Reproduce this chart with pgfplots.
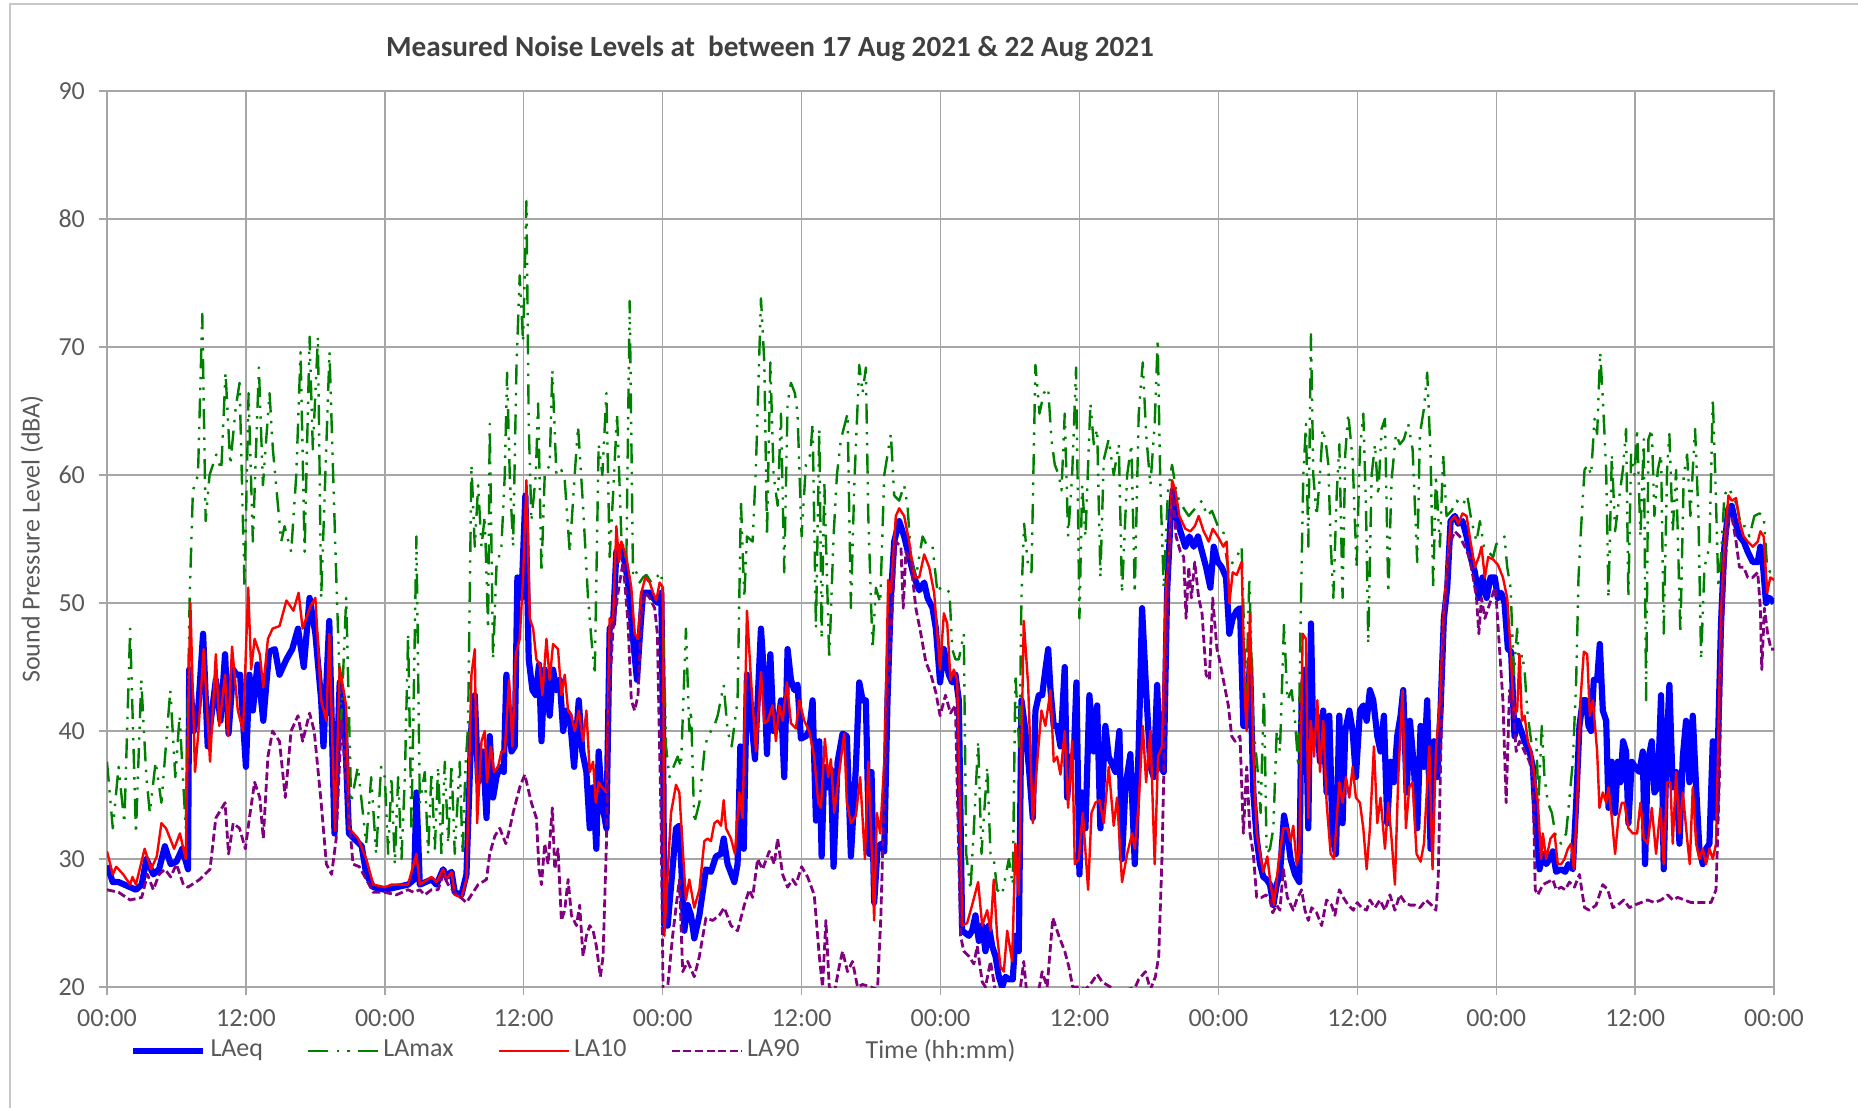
\documentclass[border=0pt]{standalone}
\usepackage{fontspec}
\setmainfont{Carlito}
\usepackage{pgfplots}
\pgfplotsset{compat=1.18}
\definecolor{gridgray}{RGB}{166,166,166}
\definecolor{framegray}{RGB}{200,200,200}
\definecolor{txtgray}{RGB}{89,89,89}
\definecolor{ttlgray}{RGB}{64,64,64}
\definecolor{lblue}{RGB}{0,0,255}
\definecolor{lgreen}{RGB}{0,128,0}
\definecolor{lred}{RGB}{255,0,0}
\definecolor{lpurple}{RGB}{128,0,128}
\begin{document}
\begin{tikzpicture}[x=0.25pt,y=0.25pt]
\useasboundingbox (0,0) rectangle (1858,1107);
\draw[framegray, line width=0.5pt] (10,-10) -- (10,1103) -- (1870,1103);
\node[font=\bfseries\fontsize{7.3}{8.8}\selectfont, text=ttlgray] at (770,1058) {Measured Noise Levels at~ between 17 Aug 2021 \& 22 Aug 2021};
\begin{axis}[
  at={(26.75pt,30pt)}, anchor=south west,
  scale only axis, width=416.75pt, height=224pt,
  xmin=0, xmax=144, ymin=20, ymax=90,
  xtick={0,12,...,144}, ytick={20,30,...,90},
  xticklabels={00:00,12:00,00:00,12:00,00:00,12:00,00:00,12:00,00:00,12:00,00:00,12:00,00:00},
  xtick pos=bottom, ytick pos=left,
  grid=major, grid style={gridgray, line width=0.35pt},
  axis line style={gridgray, line width=0.35pt},
  tick style={gridgray, line width=0.35pt},
  tick align=outside, major tick length=2pt,
  ticklabel style={font=\fontsize{6.5}{7.8}\selectfont, text=txtgray},
  /pgf/number format/assume math mode=true,
  no markers,
  ylabel={Sound Pressure Level (dBA)},
  ylabel style={at={(axis description cs:-0.045,0.5)}, anchor=center, font=\fontsize{6.5}{7.8}\selectfont, text=txtgray},
  xlabel={Time (hh:mm)},
  xlabel style={at={(axis description cs:0.5,-0.0714)}, anchor=center, font=\fontsize{6.5}{7.8}\selectfont, text=txtgray},
  legend columns=4,
  legend style={at={(axis description cs:0.0135,-0.0714)}, anchor=west, draw=none, fill=none, inner sep=0pt,
    font=\fontsize{6.5}{7.8}\selectfont, text=txtgray,
    /tikz/every odd column/.append style={column sep=-1.0pt},
    /tikz/every even column/.append style={column sep=9pt}},
  legend image code/.code={\draw[#1] (0pt,0pt) -- (17.5pt,0pt);},
  every axis plot/.append style={line join=round},
]
% LAeq
\addplot[lblue, line width=1.55pt] coordinates {
(0,29.5)(0.5,28.2)(1,28.2)(1.5,28.0)(2,27.8)(2.5,27.6)(3,28.0)(3.4,30.0)(4,28.8)(4.5,29.2)(5,31.0)(5.5,29.6)(6,29.8)(6.5,30.8)(7,29.2)(7.1,44.8)(7.5,40.0)(7.9,42)(8.3,47.6)(8.7,38.8)(9.4,44.0)(9.8,40.8)(10.2,46.0)(10.5,39.8)(10.9,44.8)(11.2,44.4)(11.5,44.4)(12.0,37.2)(12.3,44.4)(12.6,41.6)(13.0,45.2)(13.5,40.8)(14.0,46.2)(14.5,46.4)(14.9,44.4)(15.5,45.6)(16.0,46.4)(16.5,48.0)(17.0,45.0)(17.5,50.4)(18.0,47.6)(18.5,42.4)(18.7,38.8)(19.2,48.6)(19.65,32.0)(20.1,43.8)(20.5,41.2)(20.9,32.0)(22.0,31.0)(22.4,28.8)(23.0,27.8)
(24.0,27.6)(25.0,27.8)(26.0,28.0)(26.53,28.4)(26.73,35.2)(27.02,28.0)(28.03,28.4)(28.46,28.0)(29.04,29.2)(29.32,28.6)(29.76,29.0)(30.04,27.4)(30.62,27.2)(31.05,28.8)(31.48,40.4)(31.77,42.8)(32.06,36.0)(32.49,38.4)(32.78,33.2)(33.06,39.6)(33.35,34.8)(33.64,36.4)(33.93,37.2)(34.27,36.8)(34.5,44.4)(34.94,38.4)(35.22,38.8)(35.45,52.0)(35.8,50.4)(36.14,58.4)(36.43,45.6)(36.75,43.2)(37.04,42.8)(37.32,45.2)(37.53,39.2)(37.81,44.8)(38.24,41.2)(38.53,44.8)(38.82,43.2)(39.11,44.0)(39.4,40.0)(39.68,41.6)(39.97,41.2)(40.35,37.2)(40.75,42.4)(41.06,38.4)(41.41,36.8)(41.7,32.4)(41.99,35.6)(42.27,30.8)(42.47,38.4)(42.76,34.4)(43.14,32.4)(43.42,48.0)(43.71,48.4)(44.0,54.0)(44.29,54.4)(44.72,53.2)(45.01,51.6)(45.44,47.2)(45.78,44.0)(46.01,47.2)(46.3,50.8)(46.59,50.8)(46.94,50.8)(47.17,50.4)(47.6,50.0)(47.88,50.8)(48.03,40.4)
(48.14,24.8)(48.43,24.8)(49.15,32.4)(49.44,32.6)(49.87,24.4)(50.16,26.4)(50.45,25.6)(50.73,23.8)(51.17,25.6)(51.74,29.2)(52.17,29.0)(52.6,30.2)(53.04,30.4)(53.27,31.6)(53.61,29.6)(54.19,28.2)(54.47,29.6)(54.71,38.8)(55.0,30.8)(55.28,44.4)(55.63,41.2)(55.97,37.8)(56.49,48.0)(56.78,44.0)(57.01,38.2)(57.3,46.0)(57.58,40.0)(57.93,40.4)(58.22,42.4)(58.5,36.4)(58.79,46.4)(59.08,44.0)(59.37,43.2)(59.65,43.6)(59.94,39.4)(60.37,39.6)(60.66,40.0)(60.95,42.4)(61.24,33.0)(61.53,39.2)(61.73,30.2)(61.96,37.2)(62.24,35.6)(62.53,37.0)(62.76,29.4)(63.11,37.6)(63.54,39.8)(63.91,39.6)(64.26,30.2)(64.69,37.2)(64.98,43.8)(65.27,42.4)(65.55,42.4)(65.84,30.4)(66.04,36.8)(66.27,26.6)(66.56,30.8)(66.85,31.2)(67.14,30.6)(67.42,42.4)(67.71,50.4)(68.0,54.8)(68.43,56.4)(68.86,55.2)(69.29,53.6)(69.73,52.0)(70.16,51.0)(70.59,51.6)(70.88,50.4)(71.31,49.6)(71.6,48.0)(71.96,43.8)
(72.29,46.4)(72.72,44.4)(73.01,43.8)(73.29,44.4)(73.58,42.4)(73.87,24.4)(74.16,24.2)(74.45,24.0)(74.73,24.4)(75.02,25.6)(75.31,23.6)(75.6,24.8)(75.88,22.8)(76.17,24.8)(76.46,23.2)(76.75,22.4)(77.04,20.8)(77.32,20.0)(77.61,20.8)(77.9,20.6)(78.24,20.6)(78.47,24.0)(78.76,22.8)(78.99,42.4)(79.28,40.4)(79.63,37.2)(79.97,33.2)(80.2,41.6)(80.49,42.8)(80.78,42.8)(81.06,44.8)(81.3,46.4)(81.5,43.2)(81.78,40.4)(82.07,40.4)(82.36,38.8)(82.73,45.0)(82.94,34.8)(83.22,38.0)(83.51,38.0)(83.74,43.8)(84.0,28.8)(84.23,35.2)(84.52,32.4)(84.86,42.8)(85.24,38.4)(85.53,42.0)(85.81,32.4)(86.24,40.4)(86.53,38.0)(86.82,37.4)(87.11,36.8)(87.45,40.0)(87.68,30.0)(87.97,35.6)(88.4,38.2)(88.78,29.6)(89.12,38.8)(89.41,49.6)(89.76,43.2)(90.13,37.2)(90.42,36.4)(90.71,43.6)(90.99,37.2)(91.28,36.8)(91.57,50.8)(91.86,56.4)(92.06,58.8)(92.35,56.8)(92.72,55.6)(93.15,54.4)(93.5,55.2)(93.87,54.4)(94.24,55.2)(94.59,54.0)(94.94,52.8)(95.31,51.2)(95.6,54.4)(95.96,53.2)
(96.29,52.8)(96.66,52.0)(96.95,47.6)(97.24,48.8)(97.58,49.4)(97.87,49.6)(98.16,40.4)(98.45,40.4)(98.73,45.6)(99.02,35.2)(99.31,31.6)(99.6,29.6)(99.88,28.6)(100.17,28.4)(100.46,28.0)(100.75,26.4)(101.04,28.0)(101.32,28.8)(101.67,33.4)(101.96,32.0)(102.24,30.0)(102.62,28.8)(102.99,28.2)(103.19,42.4)(103.48,44.8)(103.77,32.4)(104.0,48.4)(104.2,39.2)(104.49,41.2)(104.78,37.6)(105.06,41.6)(105.35,35.2)(105.58,41.2)(105.87,31.6)(106.16,30.4)(106.45,41.2)(106.73,32.8)(106.96,40.0)(107.31,41.6)(107.6,40.0)(107.88,36.4)(108.23,41.6)(108.52,42.0)(108.81,40.8)(109.09,43.2)(109.38,42.4)(109.73,39.6)(110.01,38.4)(110.3,41.2)(110.59,32.8)(110.88,37.6)(111.17,36.0)(111.45,39.6)(111.74,41.2)(111.97,43.2)(112.26,35.2)(112.55,40.8)(112.89,37.2)(113.18,32.4)(113.47,40.4)(113.76,37.2)(114.04,42.4)(114.33,30.8)(114.62,39.2)(114.91,36.4)(115.19,41.6)(115.48,48.8)(115.77,51.2)(116.06,56.4)(116.43,56.8)(116.72,56.2)(117.09,56.4)(117.44,55.2)(117.78,53.6)(118.16,52.4)(118.5,50.4)(118.82,52.0)(119.17,50.4)(119.51,52.0)(119.88,52.0)
(120.14,50.4)(120.43,50.8)(120.72,50.0)(121.01,46.4)(121.29,46.2)(121.58,39.6)(121.87,40.8)(122.16,40.0)(122.45,39.2)(122.88,38.4)(123.17,37.2)(123.45,32.4)(123.74,29.2)(124.03,30.4)(124.32,29.6)(124.6,30.0)(124.89,30.6)(125.18,29.0)(125.61,29.2)(125.96,29.0)(126.24,29.6)(126.62,29.2)(126.91,34.4)(127.19,40.4)(127.48,42.4)(127.77,42.4)(127.97,40.4)(128.2,40.0)(128.43,44.0)(128.72,44.0)(128.95,46.8)(129.21,41.6)(129.5,40.8)(129.7,34.0)(129.99,37.6)(130.27,33.6)(130.5,37.6)(130.73,36.0)(130.96,39.2)(131.22,38.4)(131.42,32.8)(131.71,37.6)(132.0,37.2)(132.37,36.8)(132.66,38.4)(132.86,29.6)(133.09,37.6)(133.44,39.2)(133.67,35.2)(133.96,35.6)(134.24,42.8)(134.47,29.2)(134.71,38.4)(134.96,43.6)(135.25,35.6)(135.54,36.8)(135.83,31.2)(136.12,38.0)(136.4,40.8)(136.69,36.0)(136.98,41.2)(137.27,35.6)(137.55,30.8)(137.84,29.6)(138.13,30.8)(138.42,31.2)(138.71,39.2)(138.99,33.2)(139.42,48.4)(139.71,54.4)(140.06,57.4)(140.35,57.6)(140.63,56.4)(141.01,55.2)(141.38,54.8)(141.73,54.0)(142.16,53.2)(142.59,53.2)(142.82,54.4)(143.02,53.2)(143.31,50.0)(143.6,50.4)(144.0,50.0)
};
\addlegendentry{LAeq}
% LAmax
\addplot[lgreen, line width=0.6pt, dash pattern=on 5pt off 2.1pt on 0.6pt off 2.1pt on 0.6pt off 2.1pt] coordinates {
(0,37.6)(0.5,32.4)(1,37.2)(1.5,32.8)(2.0,48.0)(2.5,32.0)(2.96,44.0)(3.4,36.4)(3.7,33.6)(4.2,37.6)(4.7,34.4)(5.47,43.2)(5.9,36.4)(6.27,41.2)(6.8,32.4)(7.14,50.4)(7.42,58.8)(7.86,60.0)(8.23,72.6)(8.52,56.4)(8.86,60.0)(9.44,61.6)(9.87,60.4)(10.24,68.0)(10.65,60.8)(11.11,65.2)(11.45,67.2)(11.88,51.2)(12.23,66.4)(12.6,54.8)(13.12,68.4)(13.47,59.2)(14.04,66.4)(14.33,62.0)(15.05,54.8)(15.34,56.0)(15.91,54.0)(16.35,60.0)(16.72,69.6)(17.07,54.0)(17.5,70.8)(17.78,62.0)(18.22,70.8)(18.5,50.4)(19.22,69.6)(19.51,60.8)(19.86,50.4)(20.23,40.8)(20.66,50.4)(21.09,34.4)(21.67,37.2)(22.39,31.2)(22.82,36.4)(23.25,30.4)(23.68,37.2)
(24.0,36.4)(24.29,30.4)(24.58,36.4)(24.86,29.6)(25.15,36.4)(25.44,30.0)(25.73,36.4)(26.01,47.6)(26.3,32.4)(26.73,55.2)(27.02,34.4)(27.45,36.8)(27.74,30.4)(28.03,36.8)(28.32,30.8)(28.6,37.2)(28.89,30.4)(29.18,37.6)(29.47,31.2)(29.76,37.4)(30.04,30.4)(30.47,37.6)(30.71,30.4)(30.99,37.6)(31.19,40.4)(31.48,60.8)(31.77,54.4)(32.06,59.2)(32.35,54.4)(32.63,56.8)(32.92,48.0)(33.06,64.0)(33.35,45.6)(33.64,52.8)(34.07,54.4)(34.36,60.0)(34.56,68.0)(34.79,60.0)(35.08,54.4)(35.37,68.4)(35.65,75.6)(35.94,70.4)(36.23,81.4)(36.43,64.0)(36.66,56.4)(37.04,60.0)(37.24,65.6)(37.53,52.4)(37.81,60.0)(38.24,60.8)(38.47,68.2)(38.82,60.0)(39.25,60.4)(39.54,59.6)(39.97,54.0)(40.4,60.0)(40.69,63.8)(41.12,57.6)(41.55,50.4)(41.84,47.2)(42.13,44.4)(42.47,62.4)(42.79,60.0)(43.14,66.4)(43.42,53.6)(43.71,58.4)(44.06,64.8)(44.43,55.2)(44.86,53.2)(45.15,73.6)(45.44,52.0)(45.73,52.4)(46.01,51.6)(46.3,52.0)(46.59,52.2)(47.02,51.6)(47.45,52.0)(47.88,52.4)
(48.0,50.4)(48.29,38.8)(48.58,36.4)(49.29,38.0)(49.58,37.2)(50.01,48.0)(50.3,40.0)(50.45,41.6)(50.73,32.8)(51.17,34.4)(51.6,38.4)(51.88,39.6)(52.46,40.4)(52.75,41.2)(53.27,43.6)(53.61,40.0)(53.96,38.8)(54.47,42.4)(54.76,58.0)(55.05,50.4)(55.28,55.2)(55.77,54.8)(56.06,60.8)(56.49,73.8)(56.78,68.8)(57.01,55.2)(57.3,68.8)(57.58,60.0)(57.93,57.6)(58.22,64.8)(58.5,52.4)(58.79,65.6)(59.08,67.2)(59.42,66.4)(59.65,64.8)(60.0,55.2)(60.37,60.8)(60.75,61.6)(60.95,64.0)(61.24,48.0)(61.53,63.6)(61.73,47.2)(61.96,59.6)(62.39,45.6)(62.76,55.2)(63.05,60.0)(63.4,62.8)(63.97,64.8)(64.26,49.6)(64.55,59.2)(64.98,68.6)(65.27,66.4)(65.55,68.4)(65.76,56.8)(66.13,46.4)(66.42,51.2)(66.79,50.0)(67.14,60.0)(67.71,63.2)(68.0,58.4)(68.43,58.0)(68.86,59.2)(69.15,57.6)(69.44,53.6)(69.87,52.0)(70.45,55.2)(70.88,54.4)(71.31,54.4)(71.74,50.8)
(72.0,51.2)(72.43,51.2)(72.78,50.8)(73.01,46.4)(73.29,45.6)(73.58,45.6)(74.01,47.6)(74.22,30.4)(74.59,27.6)(74.88,32.4)(75.25,39.2)(75.54,30.4)(76.03,37.2)(76.32,30.4)(76.6,30.0)(76.89,27.6)(77.32,27.2)(77.61,28.6)(77.9,30.0)(78.24,28.0)(78.47,44.4)(78.82,38.4)(78.99,50.4)(79.22,56.2)(79.57,52.8)(79.86,52.4)(80.2,68.6)(80.55,64.8)(80.92,66.4)(81.3,66.8)(81.58,62.8)(81.87,60.8)(82.22,60.0)(82.45,58.8)(82.73,64.8)(83.02,55.2)(83.37,60.0)(83.71,68.4)(84.0,48.8)(84.23,59.2)(84.52,55.2)(84.75,60.8)(84.95,65.6)(85.24,62.4)(85.53,63.6)(85.81,52.0)(86.1,61.2)(86.53,62.8)(86.96,60.0)(87.4,62.4)(87.68,50.8)(88.12,60.0)(88.49,62.4)(88.78,50.8)(89.12,64.8)(89.47,68.8)(89.76,63.2)(90.13,59.2)(90.5,64.0)(90.76,70.6)(90.99,59.2)(91.28,51.2)(91.65,58.8)(92.0,60.8)(92.43,58.4)(92.86,57.6)(93.44,56.8)(94.01,57.4)(94.59,58.0)(95.02,56.8)(95.45,57.2)(95.96,56.0)
(96.43,55.6)(96.86,52.4)(97.24,53.2)(97.58,53.6)(98.01,54.4)(98.39,42.4)(98.68,52.0)(99.02,40.4)(99.37,37.2)(99.65,33.6)(99.94,43.2)(100.17,30.4)(100.46,30.8)(100.75,32.4)(101.04,40.0)(101.32,38.4)(101.67,48.4)(101.96,42.4)(102.33,43.2)(102.62,40.8)(102.91,37.2)(103.11,48.8)(103.34,60.0)(103.57,64.0)(103.77,54.4)(104.0,71.0)(104.2,60.0)(104.49,56.8)(104.78,60.0)(105.01,63.6)(105.3,62.4)(105.5,60.8)(105.7,54.8)(105.93,50.4)(106.22,58.4)(106.45,62.4)(106.73,50.4)(106.96,61.6)(107.22,64.8)(107.6,61.2)(107.94,52.8)(108.23,62.0)(108.52,64.8)(108.75,57.6)(108.95,46.8)(109.24,60.0)(109.53,62.4)(109.81,58.4)(110.1,63.6)(110.39,64.4)(110.68,50.8)(110.96,59.6)(111.34,63.2)(111.68,62.4)(112.03,62.8)(112.4,64.0)(112.78,62.0)(113.18,53.2)(113.41,63.2)(113.76,65.2)(114.04,68.0)(114.33,61.6)(114.56,51.2)(114.79,60.0)(115.14,54.4)(115.42,61.6)(115.71,56.8)(116.14,57.2)(116.58,58.0)(117.09,57.6)(117.5,58.4)(117.87,56.4)(118.3,54.8)(118.59,56.4)(118.94,54.4)(119.31,54.0)(119.74,53.6)
(120.0,54.6)(120.43,54.8)(120.72,55.2)(120.95,52.8)(121.24,51.2)(121.53,44.4)(121.81,48.0)(122.01,44.4)(122.22,46.0)(122.45,44.8)(122.68,41.6)(123.02,39.2)(123.45,39.6)(123.65,34.4)(123.94,40.4)(124.17,36.4)(124.46,34.4)(124.81,33.6)(125.18,31.6)(125.61,31.2)(126.04,32.0)(126.33,34.8)(126.62,37.6)(126.91,44.0)(127.11,52.0)(127.34,56.0)(127.63,60.4)(127.91,60.8)(128.2,60.0)(128.49,64.4)(128.72,63.2)(128.98,69.6)(129.21,66.0)(129.5,60.4)(129.7,50.4)(129.99,61.6)(130.27,55.6)(130.65,58.4)(130.94,60.4)(131.22,63.6)(131.42,50.4)(131.65,61.6)(131.94,60.0)(132.17,63.6)(132.46,55.2)(132.75,62.8)(132.95,42.4)(133.15,62.8)(133.44,63.6)(133.67,56.8)(133.96,60.4)(134.24,61.6)(134.47,47.6)(134.76,60.4)(134.96,63.2)(135.25,55.6)(135.54,60.4)(135.91,47.6)(136.2,60.0)(136.49,61.6)(136.78,56.8)(136.98,60.4)(137.18,63.6)(137.47,56.8)(137.7,45.6)(137.99,52.8)(138.42,54.4)(138.71,66.0)(138.91,60.4)(139.19,51.2)(139.42,53.6)(139.71,58.4)(140.06,59.0)(140.43,58.4)(140.81,57.6)(141.15,56.0)(141.5,56.0)(141.87,55.2)(142.3,56.8)(142.73,57.0)(143.11,56.8)(143.4,52.8)(143.68,52.4)(144.0,52.4)
};
\addlegendentry{LAmax}
% LA10
\addplot[lred, line width=0.6pt] coordinates {
(0,30.6)(0.5,28.8)(0.8,29.4)(1.4,28.8)(2.0,28.0)(2.2,28.6)(2.5,28.0)(3.25,30.8)(3.8,29.2)(4.3,30.2)(4.7,32.8)(5.1,32.4)(5.8,30.8)(6.3,32.0)(6.8,30.0)(7.2,50.0)(7.6,36.8)(7.9,40.0)(8.35,46.4)(8.9,37.6)(9.4,46.0)(9.7,40.4)(10.2,44.4)(10.45,39.6)(10.8,46.6)(11.3,41.6)(11.75,40.0)(12.2,51.2)(12.45,44.8)(12.75,47.2)(13.2,46.0)(13.5,43.4)(13.9,47.2)(14.3,48.0)(14.9,48.2)(15.5,50.2)(16.1,49.4)(16.55,50.8)(16.9,48.0)(17.6,49.8)(18.0,50.4)(18.5,42.4)(18.95,40.8)(19.2,47.6)(19.7,32.2)(20.1,45.0)(20.65,42.0)(20.9,32.4)(21.7,31.6)(22.4,30.0)(23.0,28.0)
(24.0,27.8)(24.58,28.0)(26.0,28.0)(26.73,30.4)(27.02,28.0)(28.03,28.6)(28.46,28.2)(29.04,29.2)(29.32,28.4)(29.76,29.0)(30.04,27.2)(30.62,27.0)(31.05,28.4)(31.48,44.4)(31.77,46.4)(31.97,32.8)(32.35,39.2)(32.63,40.0)(32.83,36.0)(33.15,38.8)(33.44,36.8)(33.78,37.2)(34.07,38.4)(34.36,38.4)(34.73,44.0)(35.02,38.8)(35.31,46.0)(35.65,47.2)(35.94,52.0)(36.23,59.6)(36.52,48.8)(36.81,48.0)(37.09,45.6)(37.38,45.2)(37.61,42.8)(37.96,47.2)(38.24,44.0)(38.53,46.8)(38.96,46.4)(39.25,42.8)(39.54,44.4)(39.83,41.6)(40.12,41.2)(40.4,40.0)(40.75,41.6)(41.12,39.2)(41.41,41.6)(41.7,36.8)(41.99,37.6)(42.22,34.4)(42.47,36.0)(42.76,35.6)(43.14,35.2)(43.42,48.8)(43.71,48.4)(44.0,56.0)(44.23,53.2)(44.43,54.8)(44.86,53.6)(45.29,51.2)(45.58,47.6)(45.87,47.2)(46.16,50.8)(46.5,52.0)(46.88,51.6)(47.17,50.8)(47.45,50.2)(47.74,51.6)(48.03,51.2)
(48.14,24.0)(48.72,33.6)(49.15,35.8)(49.44,35.2)(49.73,30.8)(50.01,26.8)(50.3,28.4)(50.73,26.2)(51.17,27.6)(51.6,31.4)(51.88,31.6)(52.17,31.4)(52.46,32.8)(52.75,33.0)(53.04,32.6)(53.27,34.6)(53.47,32.4)(53.9,31.6)(54.24,30.4)(54.62,35.2)(54.91,33.2)(55.28,49.4)(55.63,44.0)(56.06,38.4)(56.49,44.6)(56.78,40.6)(57.06,40.8)(57.5,42.0)(57.78,39.2)(58.07,42.0)(58.36,40.8)(58.73,43.8)(59.08,40.6)(59.51,40.2)(59.8,42.4)(60.23,40.8)(60.66,40.0)(61.09,38.0)(61.44,34.4)(61.67,34.0)(62.01,39.4)(62.3,36.4)(62.53,37.8)(62.82,33.6)(63.25,36.8)(63.68,39.8)(63.91,34.4)(64.26,32.8)(64.69,33.4)(65.06,36.4)(65.47,30.0)(65.76,37.6)(65.99,32.4)(66.27,25.2)(66.5,33.6)(66.79,32.0)(67.19,38.4)(67.48,51.8)(67.71,50.8)(68.14,56.8)(68.43,57.4)(68.86,56.8)(69.29,54.8)(69.73,52.0)(70.16,52.0)(70.59,53.8)(71.02,52.8)(71.45,50.8)(71.96,44.8)
(72.29,49.2)(72.58,48.4)(72.86,44.0)(73.15,44.8)(73.44,44.0)(73.87,24.8)(74.3,25.0)(74.73,26.4)(75.25,28.2)(75.6,24.8)(76.03,26.0)(76.32,24.4)(76.6,28.4)(76.89,24.0)(77.18,21.6)(77.47,21.2)(77.76,24.4)(78.19,22.0)(78.47,31.2)(78.76,27.2)(79.19,48.6)(79.57,43.6)(79.97,32.8)(80.35,37.6)(80.72,41.6)(81.06,40.4)(81.5,43.2)(81.78,37.6)(82.07,38.0)(82.36,36.6)(82.73,40.0)(83.02,34.0)(83.37,39.2)(83.6,29.6)(83.94,30.0)(84.29,33.6)(84.75,27.6)(85.04,33.6)(85.38,34.4)(85.73,34.6)(86.1,32.8)(86.53,37.2)(86.96,32.6)(87.25,34.8)(87.68,28.2)(88.12,30.4)(88.55,32.0)(88.78,30.8)(89.12,34.4)(89.47,40.4)(89.76,36.0)(90.13,40.0)(90.5,29.6)(90.79,38.0)(91.14,38.8)(91.48,51.2)(91.71,53.2)(92.0,59.6)(92.29,58.8)(92.63,56.8)(93.15,55.8)(93.58,55.6)(93.96,56.0)(94.3,56.8)(94.73,55.6)(95.17,54.8)(95.51,55.8)(95.96,55.2)
(96.43,54.4)(96.72,54.8)(96.95,50.0)(97.24,52.4)(97.58,52.2)(98.01,53.2)(98.3,42.4)(98.45,40.0)(98.73,49.2)(99.02,38.4)(99.31,32.0)(99.6,30.4)(99.88,29.0)(100.23,30.2)(100.52,28.0)(100.81,26.4)(101.18,29.6)(101.61,32.4)(101.96,32.4)(102.24,31.4)(102.47,32.6)(102.76,29.6)(102.99,30.4)(103.28,47.6)(103.57,47.2)(103.77,33.2)(103.97,40.8)(104.26,38.0)(104.55,42.4)(104.78,36.8)(105.06,40.8)(105.35,34.4)(105.7,30.4)(105.99,30.0)(106.45,36.0)(106.73,34.4)(107.02,36.4)(107.31,34.8)(107.6,37.2)(107.88,34.8)(108.23,34.4)(108.52,32.4)(108.81,29.2)(109.09,32.4)(109.44,38.8)(109.73,32.8)(110.01,34.8)(110.39,30.8)(110.68,34.4)(110.96,31.6)(111.25,28.0)(111.54,36.4)(111.91,43.2)(112.2,32.4)(112.49,35.6)(112.78,36.0)(113.12,30.4)(113.47,29.8)(113.76,31.2)(114.22,38.8)(114.5,29.2)(114.79,38.4)(115.14,42.4)(115.48,49.6)(115.77,52.8)(116.06,56.4)(116.43,56.8)(116.72,56.2)(117.09,57.0)(117.44,56.8)(117.78,54.8)(118.16,52.8)(118.5,53.6)(118.73,54.4)(119.02,52.0)(119.31,53.6)(119.74,53.4)
(120.14,53.0)(120.58,52.0)(120.95,50.4)(121.24,46.4)(121.53,41.2)(121.81,41.6)(122.01,46.0)(122.22,40.8)(122.45,41.2)(122.73,39.2)(123.02,38.4)(123.31,36.4)(123.6,34.4)(123.88,30.0)(124.03,32.0)(124.32,30.0)(124.69,31.6)(125.04,32.0)(125.32,29.6)(125.61,29.6)(125.9,30.0)(126.19,30.8)(126.47,31.2)(126.71,29.2)(126.99,34.4)(127.28,42.4)(127.57,46.2)(127.86,46.0)(128.09,41.2)(128.35,42.4)(128.72,38.4)(128.92,34.0)(129.21,35.2)(129.5,34.4)(129.7,35.6)(129.99,33.2)(130.27,30.4)(130.56,33.2)(130.85,34.4)(131.08,34.4)(131.42,32.4)(131.8,32.0)(132.17,32.0)(132.46,34.4)(132.75,31.6)(133.09,31.2)(133.44,34.0)(133.81,30.4)(134.19,34.0)(134.47,29.6)(134.76,36.0)(135.05,36.0)(135.25,31.2)(135.54,36.8)(135.83,32.0)(136.12,35.2)(136.49,31.6)(136.72,29.6)(136.98,35.6)(137.27,31.2)(137.55,30.0)(137.84,30.8)(138.13,29.6)(138.42,30.8)(138.71,30.0)(138.99,31.2)(139.42,49.2)(139.71,54.4)(140.06,58.4)(140.35,58.0)(140.72,58.2)(141.01,56.4)(141.38,55.2)(141.73,54.8)(142.16,54.4)(142.59,54.8)(142.82,55.6)(143.11,55.2)(143.4,50.8)(143.68,52.0)(144.0,51.8)
};
\addlegendentry{LA10}
% LA90
\addplot[lpurple, line width=0.7pt, dash pattern=on 2pt off 0.9pt] coordinates {
(0,27.6)(1,27.4)(2,26.8)(3,27.0)(3.5,28.8)(4,27.6)(4.5,28.8)(5.0,29.2)(5.5,28.6)(6,29.6)(6.6,28.0)(7,27.8)(8.0,28.4)(8.9,29.2)(9.4,33.2)(10.2,34.4)(10.5,30.4)(10.9,32.8)(11.45,32.4)(11.95,30.8)(12.3,33.2)(12.75,36.0)(13.2,34.8)(13.5,31.6)(13.9,38.0)(14.3,40.0)(14.9,39.2)(15.4,34.8)(15.9,40.0)(16.5,41.2)(16.9,39.2)(17.5,41.4)(17.9,40.0)(18.5,34.4)(18.95,29.6)(19.4,28.8)(19.8,31.6)(20.25,40.8)(20.8,34.4)(21.25,29.6)(21.8,29.4)(23.0,27.4)
(24.0,27.4)(25.0,27.2)(26.0,27.6)(26.5,27.4)(27.02,27.6)(27.45,27.2)(28.03,27.6)(28.6,27.6)(29.04,28.8)(29.47,28.0)(30.04,27.4)(31.05,26.6)(32.06,28.0)(32.78,28.4)(33.06,30.4)(33.5,31.8)(33.93,32.4)(34.45,31.2)(34.79,32.4)(35.08,33.6)(35.65,35.6)(36.09,36.6)(36.66,34.4)(37.09,33.2)(37.32,29.2)(37.53,28.0)(37.81,31.2)(38.1,29.6)(38.47,34.0)(38.68,29.2)(38.96,30.8)(39.25,25.2)(39.54,26.0)(39.83,28.4)(40.12,25.6)(40.55,24.8)(40.83,26.4)(41.12,22.4)(41.41,24.0)(41.7,24.8)(41.99,24.4)(42.27,23.2)(42.62,20.8)(42.85,22.4)(43.14,31.2)(43.37,42.4)(43.71,48.0)(44.14,50.8)(44.58,53.2)(45.01,48.4)(45.29,42.4)(45.58,41.6)(45.87,42.8)(46.16,49.2)(46.5,50.8)(46.88,50.4)(47.31,49.6)(47.54,47.6)(47.88,32.0)(48.03,20.0)(48.25,17.0)
(48.43,20.0)(48.86,24.0)(49.44,28.4)(49.73,21.2)(50.16,22.0)(50.73,20.8)(51.17,22.4)(51.74,25.4)(52.32,25.2)(52.89,25.6)(53.32,26.2)(53.9,24.8)(54.47,24.4)(55.05,26.4)(55.48,27.6)(55.77,27.0)(56.2,30.0)(56.63,29.2)(57.21,30.6)(57.64,29.6)(57.93,31.6)(58.36,28.8)(58.79,27.8)(59.22,28.4)(59.51,28.0)(60.0,29.4)(60.52,28.6)(61.09,27.2)(61.53,22.4)(61.81,20.0)(62.1,25.2)(62.39,20.0)(62.82,19.5)(63.25,21.6)(63.54,22.8)(63.97,21.2)(64.4,22.0)(64.83,20.0)(65.27,20.2)(65.99,20.0)(66.56,19.8)(66.85,25.6)(67.14,35.2)(67.42,42.4)(67.71,47.6)(68.14,54.8)(68.58,54.4)(68.78,49.6)(69.01,54.0)(69.44,53.2)(69.87,49.6)(70.3,47.6)(70.73,45.4)(71.17,44.4)(71.6,43.0)(71.96,41.2)
(72.43,42.8)(72.86,41.4)(73.29,42.0)(73.73,24.0)(74.01,22.8)(74.45,22.4)(74.88,21.8)(75.17,23.2)(75.6,20.4)(75.88,20.0)(76.32,22.0)(76.75,19.6)(77.32,18.4)(78.47,18.4)(78.91,20.0)(79.19,22.0)(79.48,19.2)(80.2,18.4)(80.78,21.2)(81.21,20.0)(81.7,25.4)(82.22,24.0)(82.73,22.8)(83.08,21.6)(83.42,20.0)(83.94,20.0)(84.52,19.8)(85.09,20.4)(85.53,21.0)(85.96,20.4)(86.68,20.0)(87.54,19.6)(88.83,20.0)(89.12,20.6)(89.7,21.2)(90.13,19.8)(90.56,20.8)(90.85,22.4)(91.14,30.4)(91.37,40.4)(91.57,48.0)(91.77,54.4)(92.06,58.8)(92.35,55.2)(92.72,54.0)(93.01,53.6)(93.21,48.8)(93.44,52.8)(93.67,50.4)(93.96,53.2)(94.3,50.4)(94.59,49.2)(94.94,44.4)(95.22,44.0)(95.51,50.4)(95.88,46.4)
(96.0,46.0)(96.43,44.0)(96.86,42.0)(97.15,39.6)(97.44,39.2)(97.87,39.6)(98.16,32.0)(98.45,37.2)(98.73,32.0)(99.02,30.4)(99.31,27.0)(99.74,27.0)(100.12,27.2)(100.46,26.8)(100.69,25.8)(101.04,26.4)(101.32,26.0)(101.61,29.2)(101.96,27.0)(102.47,26.0)(102.76,26.8)(103.19,27.6)(103.48,26.0)(103.77,25.2)(104.06,26.2)(104.49,25.8)(104.92,24.8)(105.35,26.8)(105.78,26.4)(106.07,25.6)(106.45,27.6)(106.79,27.0)(107.22,26.4)(107.65,26.0)(108.0,26.6)(108.37,26.2)(108.81,26.0)(109.09,26.8)(109.53,26.2)(109.96,26.8)(110.39,26.0)(110.82,27.2)(111.25,26.0)(111.68,27.2)(112.12,26.6)(112.55,26.4)(112.98,26.4)(113.41,26.2)(113.93,26.8)(114.42,26.4)(114.79,26.0)(114.99,28.4)(115.22,38.4)(115.48,48.0)(115.77,52.4)(116.06,54.8)(116.43,55.6)(116.86,55.2)(117.29,54.4)(117.67,53.6)(118.01,52.0)(118.3,50.4)(118.5,47.6)(118.73,50.4)(119.02,48.8)(119.31,49.6)(119.6,50.4)(119.88,51.2)
(120.0,50.4)(120.29,46.4)(120.58,42.4)(120.86,34.4)(121.15,43.2)(121.44,42.0)(121.73,38.4)(122.01,39.2)(122.45,38.4)(122.88,37.6)(123.17,36.4)(123.37,27.6)(123.6,27.2)(124.03,28.0)(124.46,28.2)(124.89,28.4)(125.18,27.6)(125.61,27.8)(125.96,27.6)(126.33,28.2)(126.76,27.8)(127.19,28.8)(127.63,26.2)(128.06,26.0)(128.63,26.4)(129.21,28.0)(129.64,27.6)(130.07,26.2)(130.5,26.4)(131.02,26.8)(131.51,26.2)(131.94,26.4)(132.52,26.6)(133.09,26.8)(133.67,26.6)(134.24,26.8)(134.82,27.2)(135.25,26.8)(135.68,27.0)(136.26,26.8)(136.83,26.6)(137.41,26.6)(137.99,26.6)(138.56,26.6)(138.99,27.6)(139.28,36.4)(139.48,46.4)(139.71,52.0)(140.06,56.8)(140.35,56.8)(140.72,54.8)(141.01,52.8)(141.38,52.8)(141.73,52.0)(142.16,52.0)(142.59,52.4)(142.82,49.6)(142.94,44.8)(143.17,49.6)(143.45,47.6)(143.74,46.4)(144.0,46.4)
};
\addlegendentry{LA90}
\end{axis}
\end{tikzpicture}
\end{document}
